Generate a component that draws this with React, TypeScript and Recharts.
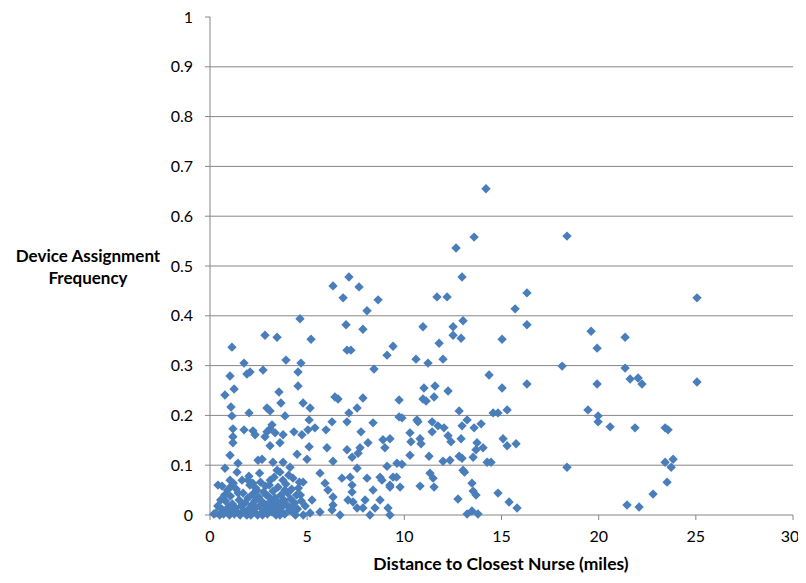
import { ScatterChart, Scatter, XAxis, YAxis, CartesianGrid } from "recharts";

// distance (miles) / assignment frequency, split by distance band
const nearDistance = [
  4.63, 2.83, 3.45, 1.13, 1.75, 3.91, 4.68, 2.06, 1.9, 2.73, 4.53, 1.03, 4.53, 1.24, 0.77, 3.55,
  3.65, 4.79, 1.08, 2.93, 3.09, 1.13, 2.01, 3.86, 3.19, 1.18, 1.75, 2.21, 3.09, 4.32, 3.76, 2.83,
  1.18, 1.18, 2.32, 4.73, 3.09, 3.6, 1.03, 2.68, 3.24, 3.76, 3.45, 4.12, 4.48, 1.44, 0.77, 1.39,
  0.41, 0.62, 1.03, 1.96, 4.27, 3.6, 2.93, 3.35, 4.79, 2.47,
];
const nearFrequency = [
  0.394, 0.361, 0.357, 0.337, 0.305, 0.311, 0.305, 0.287, 0.283, 0.291, 0.287, 0.279, 0.259, 0.253, 0.241, 0.247,
  0.225, 0.225, 0.217, 0.215, 0.209, 0.199, 0.205, 0.199, 0.181, 0.173, 0.171, 0.169, 0.173, 0.167, 0.161, 0.157,
  0.157, 0.145, 0.161, 0.161, 0.139, 0.145, 0.12, 0.112, 0.106, 0.106, 0.09, 0.096, 0.122, 0.104, 0.094, 0.086,
  0.06, 0.058, 0.07, 0.07, 0.074, 0.086, 0.167, 0.165, 0.066, 0.11,
];

// the dense pile close to zero
const clusterDistance = [
  0.3, 0.5, 0.6, 0.7, 0.8, 0.85, 0.95, 1.0, 1.05, 1.1, 1.15, 1.25, 1.3, 1.35, 1.4, 1.5, 1.55, 1.6, 1.7, 1.75,
  1.8, 1.85, 1.95, 2.0, 2.05, 2.1, 2.15, 2.2, 2.25, 2.3, 2.35, 2.4, 2.45, 2.5, 2.55, 2.6, 2.65, 2.7, 2.75, 2.8,
  2.85, 2.9, 2.95, 3.0, 3.05, 3.1, 3.15, 3.2, 3.25, 3.3, 3.35, 3.4, 3.5, 3.55, 3.6, 3.65, 3.7, 3.8, 3.85, 3.9,
  3.95, 4.0, 4.1, 4.15, 4.2, 4.3, 4.35, 4.45, 4.5, 4.6, 4.7, 4.8, 4.9, 0.55, 0.9, 1.2, 1.65, 2.0, 2.55, 3.3,
  3.75, 4.05, 4.55, 1.45, 2.35, 2.9, 3.45, 0.4, 4.25, 1.9, 2.7, 3.6, 4.4, 0.75, 1.1, 2.2, 3.05, 3.85, 4.65, 0.2,
];
const clusterFrequency = [
  0.004, 0.0, 0.012, 0.002, 0.028, 0.006, 0.016, 0.0, 0.038, 0.008, 0.022, 0.002, 0.014, 0.052, 0.006, 0.03, 0.0, 0.018, 0.044, 0.008,
  0.024, 0.002, 0.034, 0.012, 0.06, 0.0, 0.02, 0.042, 0.006, 0.028, 0.014, 0.05, 0.0, 0.036, 0.018, 0.066, 0.004, 0.026, 0.046, 0.01,
  0.058, 0.02, 0.002, 0.038, 0.014, 0.07, 0.028, 0.006, 0.048, 0.018, 0.034, 0.0, 0.056, 0.024, 0.008, 0.04, 0.016, 0.03, 0.002, 0.062,
  0.02, 0.044, 0.01, 0.032, 0.052, 0.004, 0.024, 0.04, 0.012, 0.066, 0.028, 0.0, 0.018, 0.03, 0.05, 0.064, 0.07, 0.078, 0.084, 0.076,
  0.07, 0.08, 0.054, 0.044, 0.054, 0.04, 0.012, 0.018, 0.016, 0.0, 0.0, 0.0, 0.0, 0.04, 0.058, 0.064, 0.06, 0.05, 0.04, 0.002,
];

const midDistance = [
  7.15, 6.33, 7.67, 6.85, 8.65, 8.08, 7.0, 7.87, 5.2, 7.05, 7.25, 9.42, 9.11, 8.44, 6.43, 6.59,
  7.87, 9.73, 5.15, 7.15, 7.57, 5.1, 6.28, 7.05, 8.39, 9.73, 5.4, 5.04, 5.97, 5.1, 6.02, 7.05,
  7.72, 8.13, 8.9, 9.26, 9.0, 7.77, 7.31, 7.62, 6.33, 7.57, 9.11, 9.62, 4.99, 5.66, 6.79, 7.21,
  8.08, 8.75, 9.42, 9.26, 5.25, 6.07, 6.33, 7.31, 8.39, 7.98, 7.36, 7.57, 8.75, 9.16, 5.15, 6.28,
  6.69, 8.23, 9.26, 5.66, 6.33, 7.1, 7.87, 8.49, 5.92, 7.31, 8.85, 9.26, 9.88, 9.88, 9.78, 9.6,
];
const midFrequency = [
  0.478, 0.46, 0.458, 0.436, 0.432, 0.41, 0.382, 0.373, 0.353, 0.331, 0.331, 0.339, 0.321, 0.293, 0.237, 0.233,
  0.235, 0.231, 0.215, 0.205, 0.215, 0.191, 0.187, 0.187, 0.185, 0.197, 0.175, 0.171, 0.171, 0.137, 0.135, 0.131,
  0.135, 0.145, 0.151, 0.153, 0.135, 0.167, 0.116, 0.124, 0.108, 0.094, 0.098, 0.104, 0.112, 0.084, 0.074, 0.076,
  0.074, 0.076, 0.076, 0.056, 0.03, 0.05, 0.036, 0.046, 0.05, 0.03, 0.026, 0.014, 0.03, 0.014, 0.004, 0.01,
  0.0, 0.0, 0.0, 0.006, 0.02, 0.03, 0.014, 0.014, 0.064, 0.06, 0.07, 0.06, 0.195, 0.102, 0.056, 0.076,
];

const farDistance = [
  14.2, 13.59, 18.37, 12.66, 12.97, 11.68, 12.2, 16.31, 15.7, 25.06, 10.96, 12.51, 13.02, 16.31, 12.51, 12.92,
  11.79, 15.03, 19.61, 19.92, 21.36, 10.6, 11.22, 11.99, 14.36, 18.12, 21.36, 21.62, 22.03, 22.23, 19.92, 25.06,
  15.03, 16.31, 11.01, 11.58, 12.25, 10.96, 11.12, 11.53, 12.82, 14.57, 14.82, 15.29, 19.45, 19.97, 19.97, 20.59,
  21.87, 23.42, 23.57, 10.65, 10.7, 11.43, 11.73, 12.04, 13.23, 12.97, 13.59, 13.95, 10.29, 10.34, 10.81, 10.86,
  11.43, 12.25, 12.4, 12.92, 13.74, 14.05, 13.69, 15.08, 15.29, 15.75, 10.29, 11.27, 11.99, 12.35, 12.82, 12.97,
  13.54, 14.26, 14.46, 18.37, 23.42, 23.83, 23.73, 23.52, 22.8, 21.46, 22.08, 13.02, 13.1, 11.32, 11.48, 11.53,
  10.81, 13.48, 13.54, 13.69, 14.82, 12.76, 15.39, 15.8, 13.23, 13.48, 13.79,
];
const farFrequency = [
  0.655, 0.558, 0.56, 0.536, 0.478, 0.438, 0.438, 0.446, 0.414, 0.436, 0.378, 0.378, 0.39, 0.382, 0.361, 0.355,
  0.345, 0.353, 0.369, 0.335, 0.357, 0.313, 0.305, 0.313, 0.281, 0.299, 0.295, 0.273, 0.275, 0.263, 0.263, 0.267,
  0.255, 0.263, 0.255, 0.259, 0.249, 0.233, 0.229, 0.237, 0.209, 0.205, 0.205, 0.211, 0.211, 0.199, 0.187, 0.177,
  0.175, 0.175, 0.171, 0.191, 0.187, 0.187, 0.179, 0.175, 0.191, 0.179, 0.175, 0.183, 0.165, 0.147, 0.153, 0.143,
  0.167, 0.159, 0.147, 0.153, 0.145, 0.135, 0.131, 0.153, 0.139, 0.143, 0.12, 0.118, 0.108, 0.11, 0.118, 0.114,
  0.116, 0.106, 0.106, 0.096, 0.106, 0.112, 0.096, 0.066, 0.042, 0.02, 0.016, 0.09, 0.086, 0.084, 0.074, 0.056,
  0.058, 0.064, 0.048, 0.04, 0.044, 0.032, 0.026, 0.014, 0.002, 0.008, 0.002,
];

const xTicks = [0, 5, 10, 15, 20, 25, 30];
const yTicks = [0, 0.1, 0.2, 0.3, 0.4, 0.5, 0.6, 0.7, 0.8, 0.9, 1];
const gridValues = [0.1, 0.2, 0.3, 0.4, 0.5, 0.6, 0.7, 0.8, 0.9];

const pairs = (xs: number[], ys: number[]) => xs.map((d, i) => ({ distance: d, frequency: ys[i] }));

const points = [
  ...pairs(nearDistance, nearFrequency),
  ...pairs(clusterDistance, clusterFrequency),
  ...pairs(midDistance, midFrequency),
  ...pairs(farDistance, farFrequency),
];

const font = "Lato, 'Open Sans', sans-serif";
const gray = "#868686";

const Diamond = (props: any) => {
  const { cx, cy } = props;
  if (cx == null || cy == null) return null;
  const r = 4.7;
  return (
    <polygon
      points={`${cx},${cy - r} ${cx + r},${cy} ${cx},${cy + r} ${cx - r},${cy}`}
      fill="#4a7ebb"
    />
  );
};

const YTitle = () => (
  <text x={80} y={254} textAnchor="middle" fontFamily={font} fontWeight={700} fontSize={17} fill="#000">
    <tspan x={80} dy={0}>Device Assignment</tspan>
    <tspan x={80} dy={22}>Frequency</tspan>
  </text>
);

const XTitle = () => (
  <text x={493} y={562} textAnchor="middle" fontFamily={font} fontWeight={700} fontSize={17.5} fill="#000">
    Distance to Closest Nurse (miles)
  </text>
);

export default function App() {
  return (
    <div style={{ width: 790, height: 567, background: "#fff" }}>
      <style>{`.recharts-surface { overflow: visible; } .recharts-wrapper { overflow: visible; }`}</style>
      <ScatterChart width={790} height={567} margin={{ top: 9, right: 5, bottom: 4, left: 0 }}>
        <CartesianGrid vertical={false} stroke={gray} horizontalValues={gridValues} />
        <XAxis
          type="number"
          dataKey="distance"
          domain={[0, 30]}
          ticks={xTicks}
          height={56}
          stroke={gray}
          tickSize={5}
          tickMargin={11}
          tick={{ fill: "#000", fontSize: 16, fontFamily: font }}
          label={<XTitle />}
        />
        <YAxis
          type="number"
          dataKey="frequency"
          domain={[0, 1]}
          ticks={yTicks}
          width={202}
          stroke={gray}
          tickSize={5}
          tickMargin={12}
          tickFormatter={(v: number) => String(v)}
          tick={{ fill: "#000", fontSize: 16, fontFamily: font }}
          label={<YTitle />}
        />
        <Scatter data={points} shape={<Diamond />} isAnimationActive={false} />
      </ScatterChart>
    </div>
  );
}
